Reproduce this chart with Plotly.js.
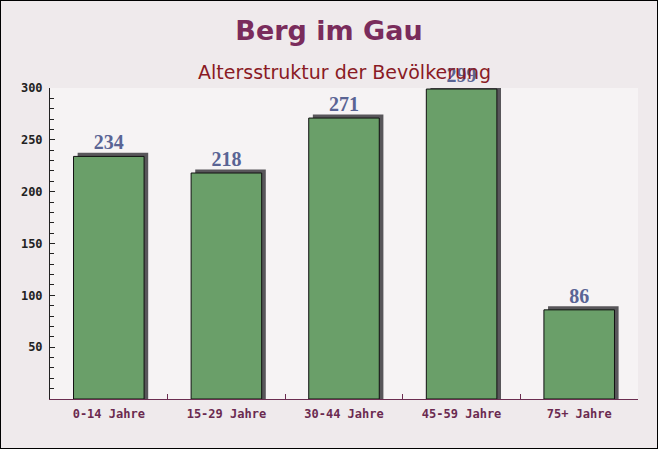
<!DOCTYPE html>
<html>
<head>
<meta charset="utf-8">
<script src="https://cdn.plot.ly/plotly-3.0.1.min.js"></script>
<style>
  body { margin: 0; }
  #chart { position: absolute; left: 0; top: 0; width: 658px; height: 449px; }
  #frame { position: absolute; left: 0; top: 0; width: 658px; height: 449px;
           box-sizing: border-box; border: 1px solid #000; pointer-events: none; }
</style>
</head>
<body>
<div id="chart"></div>
<div id="frame"></div>
<script>
var groups = ['0-14 Jahre', '15-29 Jahre', '30-44 Jahre', '45-59 Jahre', '75+ Jahre'];
var population = [234, 218, 271, 299, 86];
var yTicks = [50, 100, 150, 200, 250, 300];

// gray drop shadow behind each bar, a few px up and to the right
var shadow = {
  x: groups,
  y: population.map(function (v) { return v + 3.5; }),
  type: 'bar',
  width: 0.6,
  offset: -0.265,
  marker: { color: '#58565a', line: { width: 0 } },
  hoverinfo: 'skip',
  showlegend: false
};

var bars = {
  x: groups,
  y: population,
  type: 'bar',
  width: 0.6,
  offset: -0.3,
  marker: { color: '#6a9f69', line: { color: '#111111', width: 1 } },
  text: population.map(String),
  textposition: 'outside',
  cliponaxis: false,
  textfont: { family: 'Liberation Serif', size: 20, color: '#5a6494', weight: 'bold' },
  showlegend: false
};

var layout = {
  width: 658,
  height: 449,
  margin: { l: 50, r: 20, t: 88, b: 50 },
  paper_bgcolor: '#efeaec',
  plot_bgcolor: 'rgba(255,255,255,0.45)',
  barmode: 'overlay',
  title: {
    text: '<b>Berg im Gau</b>',
    font: { family: 'DejaVu Sans', size: 27, color: '#7a2c5c' },
    x: 0.5, xanchor: 'center', y: 0.932, yanchor: 'middle'
  },
  annotations: [{
    text: 'Altersstruktur der Bevölkerung',
    xref: 'paper', yref: 'paper', x: 0.5, y: 1.052, xanchor: 'center', yanchor: 'middle',
    showarrow: false,
    font: { family: 'DejaVu Sans', size: 19, color: '#8a1a24' }
  }],
  xaxis: {
    fixedrange: true,
    showline: true, linecolor: '#6b2d50', linewidth: 1,
    ticks: 'inside', tickson: 'boundaries', ticklen: 5, tickcolor: '#6b2d50',
    ticklabelstandoff: 4,
    tickfont: { family: 'DejaVu Sans Mono', size: 12, color: '#6b2a50', weight: 'bold' },
    showgrid: false, zeroline: false
  },
  yaxis: {
    fixedrange: true,
    range: [0, 300],
    showline: true, linecolor: '#222222', linewidth: 1,
    tickvals: yTicks,
    ticks: 'inside', ticklen: 5, tickcolor: '#222222',
    minor: { dtick: 10, ticks: 'inside', ticklen: 4, tickcolor: '#222222', showgrid: false },
    ticklabelstandoff: 4,
    tickfont: { family: 'DejaVu Sans Mono', size: 12, color: '#222222', weight: 'bold' },
    showgrid: false, zeroline: false
  }
};

Plotly.newPlot('chart', [shadow, bars], layout, { displayModeBar: false, staticPlot: true });
</script>
</body>
</html>
